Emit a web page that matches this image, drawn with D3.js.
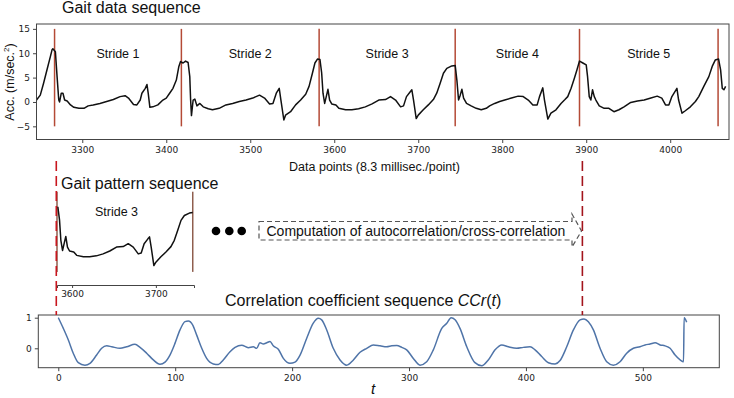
<!DOCTYPE html>
<html><head><meta charset="utf-8">
<script src="https://cdn.jsdelivr.net/npm/d3@7"></script>
<style>
body{margin:0;background:#fff}
svg{display:block}
text{font-family:"Liberation Sans",Arial,sans-serif;fill:#111}
.tick text{font-family:"DejaVu Sans",sans-serif;font-size:9px;fill:#222}
</style>
</head><body>
<svg id="c" width="734" height="398"></svg>
<script>
// ---------- data ----------
const gaitPoints = [
[3245.5,0.4],[3250,1.4],[3254,3.9],[3258,6.6],[3262,9.3],[3264,10.7],[3265,10.9],[3268,10.3],[3270,5.2],[3272,0.4],
[3273,0.0],[3275,1.8],[3277,1.8],[3279,0.4],[3282,0.2],[3286,-0.6],[3290,-1.1],[3296,-1.3],[3302,-1.3],[3307,-0.8],
[3313,-0.6],[3321,-0.3],[3329,0.1],[3337,0.5],[3345,1.1],[3351,1.3],[3355,0.8],[3361,-0.5],[3365,-0.6],[3369,0.4],
[3371,1.8],[3375,2.8],[3377,3.6],[3378.5,1.8],[3380.5,-1.1],[3384,-1.0],[3390,-0.6],[3396,0.4],[3400,0.8],[3404,1.8],
[3408,2.8],[3412,4.5],[3415,7.3],[3417,8.3],[3420,8.0],[3423,8.4],[3426,8.1],[3428,5.2],[3429,0.4],[3430,-2.8],
[3432,0.4],[3434,0.6],[3436.5,-0.8],[3440,-0.3],[3444,-1.0],[3450,-1.4],[3455,-1.6],[3463,-1.3],[3471,-0.6],[3479,-0.3],
[3487,0.1],[3495,0.4],[3503,0.8],[3511,1.4],[3517,0.8],[3523,-0.4],[3527,-0.3],[3531,1.8],[3534.5,2.8],[3536.5,0.4],
[3540,-3.7],[3542,-2.7],[3548,-2.0],[3554,-0.6],[3560,0.4],[3566,1.6],[3570,3.2],[3574,5.9],[3577,8.0],[3580,8.8],
[3583,8.7],[3585,6.0],[3586.6,1.8],[3588.6,-0.3],[3590.5,1.1],[3592.5,2.6],[3594.5,0.4],[3597,-0.4],[3602,-0.6],[3605.5,-1.3],
[3613.5,-1.6],[3621,-1.6],[3629,-1.4],[3637,-1.0],[3645,-0.4],[3653,0.4],[3661,0.5],[3667,1.1],[3673,0.4],[3679,-1.0],
[3682.5,-0.8],[3686,1.1],[3690.5,2.1],[3692.4,2.5],[3694.4,0.4],[3697.6,-3.4],[3700,-2.7],[3706,-1.6],[3712,-0.6],[3718,0.5],
[3722,1.8],[3726,3.8],[3730,5.9],[3734,6.9],[3740,7.4],[3744,7.5],[3746,4.5],[3748,0.4],[3750,1.4],[3752,2.6],
[3754,0.8],[3757.5,-0.3],[3763,-0.8],[3769,-1.3],[3775,-1.6],[3781,-1.3],[3785,-0.8],[3791,-0.3],[3797,0.1],[3803,0.4],
[3811,0.8],[3819,1.2],[3825,1.1],[3831,0.4],[3836.5,-0.6],[3841.6,-0.6],[3844.4,1.1],[3848.3,2.9],[3850.3,0.4],[3854.3,-3.5],
[3858,-2.3],[3864,-1.6],[3870,-0.3],[3874.7,0.5],[3878,1.1],[3882,2.8],[3886,4.9],[3889,6.6],[3892,8.4],[3896,8.0],
[3900,7.6],[3901.6,5.2],[3903.6,1.1],[3905.5,0.4],[3907.5,2.5],[3909.6,1.1],[3911.5,0.4],[3915.5,-0.8],[3921.4,-1.3],[3927,-1.3],
[3933,-2.0],[3939,-1.6],[3945,-1.0],[3953,-0.1],[3961,0.2],[3969,0.4],[3977,0.8],[3984.5,1.2],[3990,0.8],[3994.4,-0.6],
[3998.4,-0.6],[4002,1.1],[4008,2.8],[4010,0.4],[4014,-2.3],[4018,-1.8],[4024,-1.0],[4030,0.1],[4034,1.1],[4040,3.2],
[4046,5.2],[4050,7.3],[4053.6,8.6],[4057.6,8.8],[4060,6.6],[4062,2.8],[4064,2.5],[4066,3.2]
];
const strideBounds = [3267, 3418, 3582, 3744, 3892, 4057];
const strideLabels = ["Stride 1","Stride 2","Stride 3","Stride 4","Stride 5"];
const topXTicks = [3300,3400,3500,3600,3700,3800,3900,4000];
const topYTicks = [-5,0,5,10,15];
const patternStride = {start:3582, end:3744, label:"Stride 3"};
const patternXTicks = [3600,3700];

const ccrPoints = [
[0,1.0],[4.3,0.65],[8.6,0.27],[12.8,-0.16],[17.1,-0.47],[22.8,-0.55],[27.1,-0.49],[32.8,-0.22],[37.1,0.0],[41.4,0.08],
[45.7,0.05],[52.8,0.0],[58.5,0.05],[65.6,0.13],[69.9,0.03],[75.6,-0.16],[81.3,-0.38],[87,-0.52],[91.3,-0.45],[95.5,-0.22],
[99.8,0.16],[104.1,0.6],[108.4,0.87],[111.2,0.89],[115,0.76],[118.4,0.43],[122.7,0.0],[126.9,-0.33],[132.6,-0.51],[136.9,-0.53],
[141.1,-0.38],[146.9,-0.11],[151.2,0.03],[156.9,0.1],[162.5,0.02],[166.8,0.05],[169.7,0.0],[172.5,0.18],[175.4,0.14],[178.3,0.18],
[181.1,0.22],[183.9,0.08],[188.2,-0.03],[192.5,-0.33],[198.2,-0.49],[202.5,-0.45],[206.8,-0.22],[212.5,0.33],[218.1,0.82],[222.4,0.98],
[225.3,0.93],[229.6,0.6],[235.2,0.0],[241,-0.38],[246.7,-0.55],[252.4,-0.38],[258.1,-0.13],[263.8,0.0],[269.5,0.11],[275.2,0.08],
[280.9,0.05],[285.2,0.08],[289.5,0.09],[293.8,0.03],[298,-0.05],[303.7,-0.33],[309.4,-0.55],[315.1,-0.44],[320.8,-0.05],[328,0.65],
[332.3,0.82],[336,1.0],[339.4,0.93],[343.6,0.65],[349.4,0.05],[356.4,-0.47],[362.2,-0.57],[367.8,-0.38],[373.6,-0.05],[379.3,0.11],
[385,0.05],[392.1,0.0],[397.8,0.03],[403.5,0.05],[407.8,-0.05],[413.5,-0.27],[419.2,-0.47],[424.9,-0.51],[429.2,-0.4],[434.9,0.05],
[440.6,0.6],[446.3,0.93],[449.7,0.96],[453.4,0.87],[457.7,0.6],[463.4,0.0],[469.1,-0.44],[474.8,-0.55],[480.5,-0.44],[486.2,-0.16],
[491.9,0.0],[497.6,0.05],[501.9,0.11],[506.2,0.14],[510.5,0.18],[514.8,0.11],[519,0.08],[523.3,0.0],[527.6,-0.22],[531.9,-0.38],
[534.8,-0.44],[535.3,1.0],[537.5,0.85]
];
const ccrXTicks = [0,100,200,300,400,500];
const ccrYTicks = [0,1];
const ccrMarks = [0, 450];

// ---------- drawing ----------
const svg = d3.select("#c");
const frameColor = "#444";
const strideColor = "#b44a36";

// Top chart
const xT = d3.scaleLinear().domain([3245.5, 4070]).range([36.5, 729]);
const yT = d3.scaleLinear().domain([-7.7, 16]).range([139.5, 24]);

svg.append("text").attr("x", 62).attr("y", 13).attr("font-size", 16).text("Gait data sequence");

const gTop = svg.append("g");
gTop.append("g").attr("transform", `translate(0,${yT.range()[0]})`)
  .call(d3.axisBottom(xT).tickValues(topXTicks).tickSize(3.5).tickPadding(3.5).tickFormat(d3.format("d")))
  .call(g => g.select(".domain").remove())
  .call(g => g.selectAll(".tick line").attr("stroke", frameColor));
gTop.append("g").attr("transform", `translate(${xT.range()[0]},0)`)
  .call(d3.axisLeft(yT).tickValues(topYTicks).tickSize(3.5).tickPadding(3).tickFormat(d3.format("d")))
  .call(g => g.select(".domain").remove())
  .call(g => g.selectAll(".tick line").attr("stroke", frameColor));

gTop.selectAll("line.stride").data(strideBounds).join("line")
  .attr("class", "stride")
  .attr("x1", d => xT(d)).attr("x2", d => xT(d))
  .attr("y1", yT(15)).attr("y2", yT(-5))
  .attr("stroke", strideColor).attr("stroke-width", 1.5);

const lineT = d3.line().x(d => xT(d[0])).y(d => yT(d[1]));
gTop.append("path").datum(gaitPoints).attr("d", lineT)
  .attr("fill", "none").attr("stroke", "#111").attr("stroke-width", 1.5).attr("stroke-linejoin", "round");

gTop.selectAll("text.slab").data(strideLabels).join("text")
  .attr("class", "slab")
  .attr("x", (d, i) => xT((strideBounds[i] + strideBounds[i + 1]) / 2))
  .attr("y", yT(10) + 4.5)
  .attr("text-anchor", "middle").attr("font-size", 12.5).text(d => d);

gTop.append("rect")
  .attr("x", xT.range()[0]).attr("y", yT.range()[1])
  .attr("width", xT.range()[1] - xT.range()[0]).attr("height", yT.range()[0] - yT.range()[1])
  .attr("fill", "none").attr("stroke", frameColor).attr("stroke-width", 1);

const yl = svg.append("text").attr("transform", "translate(14,82) rotate(-90)")
  .attr("text-anchor", "middle").attr("font-size", 12.5);
yl.append("tspan").text("Acc. (m/sec.");
yl.append("tspan").attr("font-size", 8).attr("dy", -5).text("2");
yl.append("tspan").attr("dy", 5).text(")");

svg.append("text").attr("x", 374.5).attr("y", 171).attr("text-anchor", "middle")
  .attr("font-size", 12.5).text("Data points (8.3 millisec./point)");

// Pattern chart
const xP = d3.scaleLinear().domain([3582, 3745.5]).range([57, 194]);
const yP = d3.scaleLinear().domain([-7.4, 16]).range([285, 171.3]);

svg.append("text").attr("x", 61).attr("y", 189).attr("font-size", 16).text("Gait pattern sequence");

const gP = svg.append("g");
gP.append("g").attr("transform", `translate(0,${yP.range()[0]})`)
  .call(d3.axisBottom(xP).tickValues(patternXTicks).tickSize(3).tickPadding(3).tickFormat(d3.format("d")))
  .call(g => g.select(".domain").attr("stroke", frameColor))
  .call(g => g.selectAll(".tick line").attr("stroke", frameColor));

gP.selectAll("line.pb").data([patternStride.start, patternStride.end]).join("line")
  .attr("class", "pb")
  .attr("x1", d => xP(d)).attr("x2", d => xP(d))
  .attr("y1", yP(11.8)).attr("y2", yP(-4.7))
  .attr("stroke", "#8f5e4e").attr("stroke-width", 1.5);

const patData = gaitPoints.filter(d => d[0] > patternStride.start && d[0] <= patternStride.end);
const lineP = d3.line().x(d => xP(d[0])).y(d => yP(d[1]));
gP.append("path").datum(patData).attr("d", lineP)
  .attr("fill", "none").attr("stroke", "#111").attr("stroke-width", 1.5).attr("stroke-linejoin", "round");

gP.append("text").attr("x", xP(3653)).attr("y", 216).attr("text-anchor", "middle")
  .attr("font-size", 12.5).text(patternStride.label);

// dots
svg.selectAll("circle.dot").data([216, 229.3, 241.7]).join("circle")
  .attr("class", "dot").attr("cx", d => d).attr("cy", 231).attr("r", 4.3).attr("fill", "#000");

// dashed arrow
svg.append("path")
  .attr("d", "M259,221.5 L572,221.5 L572,214 L581.5,231 L572,247 L572,240 L259,240 Z")
  .attr("fill", "none").attr("stroke", "#555").attr("stroke-width", 1.2).attr("stroke-dasharray", "5,3");
svg.append("text").attr("x", 266.5).attr("y", 236).attr("font-size", 14)
  .text("Computation of autocorrelation/cross-correlation");

// CCr chart
const xC = d3.scaleLinear().domain([-17.1, 565.4]).range([38.3, 719.3]);
const yC = d3.scaleLinear().domain([-0.634, 1.088]).range([367.7, 315]);

const ct = svg.append("text").attr("x", 225).attr("y", 305.5).attr("font-size", 16);
ct.append("tspan").text("Correlation coefficient sequence ");
ct.append("tspan").attr("font-style", "italic").text("CCr");
ct.append("tspan").text("(");
ct.append("tspan").attr("font-style", "italic").text("t");
ct.append("tspan").text(")");

const gC = svg.append("g");
gC.append("g").attr("transform", `translate(0,${yC.range()[0]})`)
  .call(d3.axisBottom(xC).tickValues(ccrXTicks).tickSize(3.5).tickPadding(3.5).tickFormat(d3.format("d")))
  .call(g => g.select(".domain").remove())
  .call(g => g.selectAll(".tick line").attr("stroke", frameColor));
gC.append("g").attr("transform", `translate(${xC.range()[0]},0)`)
  .call(d3.axisLeft(yC).tickValues(ccrYTicks).tickSize(3.5).tickPadding(3).tickFormat(d3.format("d")))
  .call(g => g.select(".domain").remove())
  .call(g => g.selectAll(".tick line").attr("stroke", frameColor));

const lineC = d3.line().x(d => xC(d[0])).y(d => yC(d[1])).curve(d3.curveMonotoneX);
gC.append("path").datum(ccrPoints).attr("d", lineC)
  .attr("fill", "none").attr("stroke", "#4f74a8").attr("stroke-width", 1.5);

gC.append("rect")
  .attr("x", xC.range()[0]).attr("y", yC.range()[1])
  .attr("width", xC.range()[1] - xC.range()[0]).attr("height", yC.range()[0] - yC.range()[1])
  .attr("fill", "none").attr("stroke", frameColor).attr("stroke-width", 1);

svg.append("text").attr("x", 373).attr("y", 394).attr("text-anchor", "middle")
  .attr("font-size", 15).attr("font-style", "italic").text("t");

// red dashed markers
const markColors = ["#c8161e", "#a3141c"];
svg.selectAll("line.mark").data(ccrMarks).join("line")
  .attr("class", "mark")
  .attr("x1", d => xC(d) - 2).attr("x2", d => xC(d) - 2)
  .attr("y1", 161).attr("y2", yC.range()[1])
  .attr("stroke", (d, i) => markColors[i]).attr("stroke-width", 1.6)
  .attr("stroke-dasharray", "10,5");
</script>
</body></html>
